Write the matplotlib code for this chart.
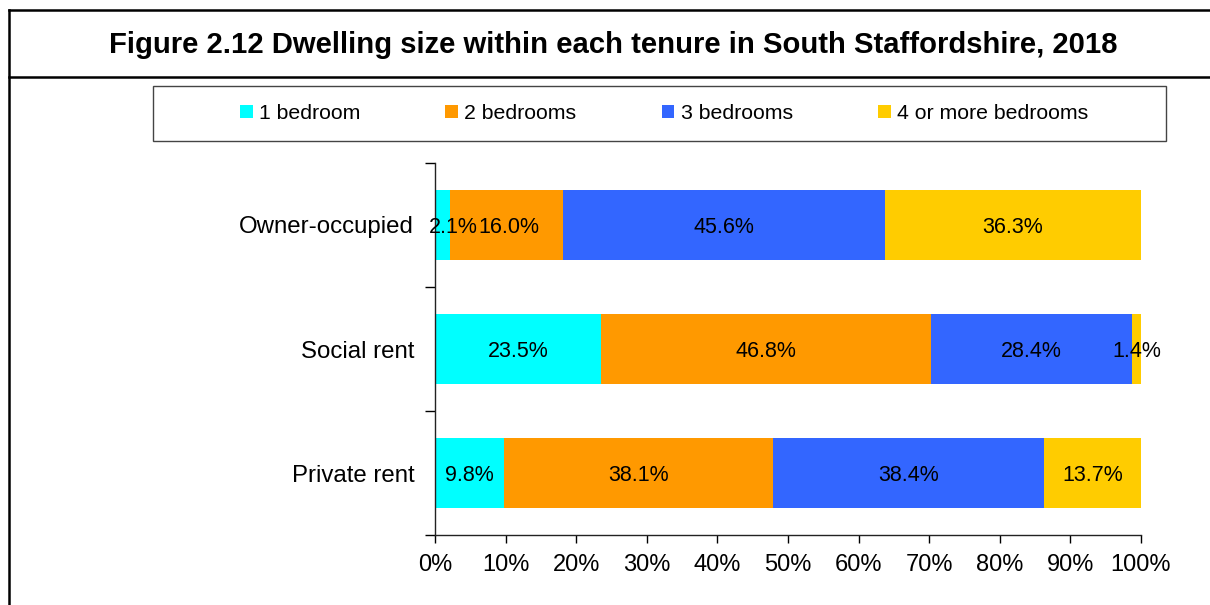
import matplotlib
matplotlib.use("Agg")
import matplotlib.pyplot as plt
from matplotlib.patches import Rectangle, Patch
from matplotlib.lines import Line2D

plt.rcParams['font.family'] = ['Liberation Sans', 'DejaVu Sans']

tenures = ["Private rent", "Social rent", "Owner-occupied"]
sizes = ["1 bedroom", "2 bedrooms", "3 bedrooms", "4 or more bedrooms"]
one_bed = [9.8, 23.5, 2.1]
two_bed = [38.1, 46.8, 16.0]
three_bed = [38.4, 28.4, 45.6]
four_bed = [13.7, 1.4, 36.3]
colors = ["#00FFFF", "#FF9900", "#3366FF", "#FFCC00"]
xticks = [0, 10, 20, 30, 40, 50, 60, 70, 80, 90, 100]

W, H = 1210, 605
fig = plt.figure(figsize=(W / 100, H / 100), dpi=100)

# outer frame and title rule
fig.add_artist(Line2D([9 / W, 9 / W], [-0.05, 1 - 10 / H], color="black", lw=1.8))
fig.add_artist(Line2D([9 / W, 1.05], [1 - 10 / H, 1 - 10 / H], color="black", lw=1.8))
fig.add_artist(Line2D([9 / W, 1.05], [1 - 77 / H, 1 - 77 / H], color="black", lw=1.8))

fig.text(613 / W, 1 - 45 / H,
         "Figure 2.12 Dwelling size within each tenure in South Staffordshire, 2018",
         ha="center", va="center", fontsize=21.1, fontweight="bold")

ax = fig.add_axes([435 / W, 1 - 535 / H, (1141 - 435) / W, (535 - 163) / H])

series = [one_bed, two_bed, three_bed, four_bed]
ypos = list(range(len(tenures)))
left = [0.0] * len(tenures)
for k, (name, vals, col) in enumerate(zip(sizes, series, colors)):
    ax.barh(ypos, vals, left=left, height=0.56, color=col, edgecolor="none", label=name)
    for i, v in enumerate(vals):
        cx = left[i] + v / 2
        if k == 0 and v < 3.0:
            # nudge a narrow first segment's label clear of the axis
            cx = left[i] + 2.6
        elif k == 1 and series[0][i] < 3.0:
            # and give its neighbour a little room
            cx += 0.3
        ax.text(cx, ypos[i], f"{v:.1f}%", ha="center", va="center_baseline",
                fontsize=15.5, color="black")
    left = [l + v for l, v in zip(left, vals)]

ax.set_xlim(0, 100)
ax.set_ylim(-0.5, len(tenures) - 0.5)
ax.set_xticks(xticks)
ax.set_xticklabels([f"{t}%" for t in xticks], fontsize=17)
ax.set_yticks([y - 0.5 for y in range(len(tenures) + 1)])
ax.set_yticklabels([])
ax.set_yticks(ypos, minor=True)
ax.set_yticklabels(tenures, minor=True, fontsize=17.3)
ax.tick_params(axis="y", which="minor", length=0, pad=15)
ax.tick_params(axis="y", which="major", length=7, width=1, direction="out")
ax.tick_params(axis="x", length=6, width=1, direction="out", pad=8)
for s in ["top", "right"]:
    ax.spines[s].set_visible(False)
for s in ["left", "bottom"]:
    ax.spines[s].set_linewidth(1)
    ax.spines[s].set_color("#222222")

# legend box
fig.add_artist(Rectangle((153 / W, 1 - 141 / H), (1166 - 153) / W, (141 - 86) / H,
                         transform=fig.transFigure, fill=False, edgecolor="#444444", lw=1))
handles = [Patch(facecolor=c, edgecolor="none") for c in colors]
fig.legend(handles, sizes, loc="center", bbox_to_anchor=(664 / W, 1 - 113.5 / H),
           ncol=4, frameon=False, fontsize=15.3, handlelength=0.6, handleheight=0.6,
           handletextpad=0.3, columnspacing=4.0, borderpad=0)

fig.savefig("out.png", dpi=100)
